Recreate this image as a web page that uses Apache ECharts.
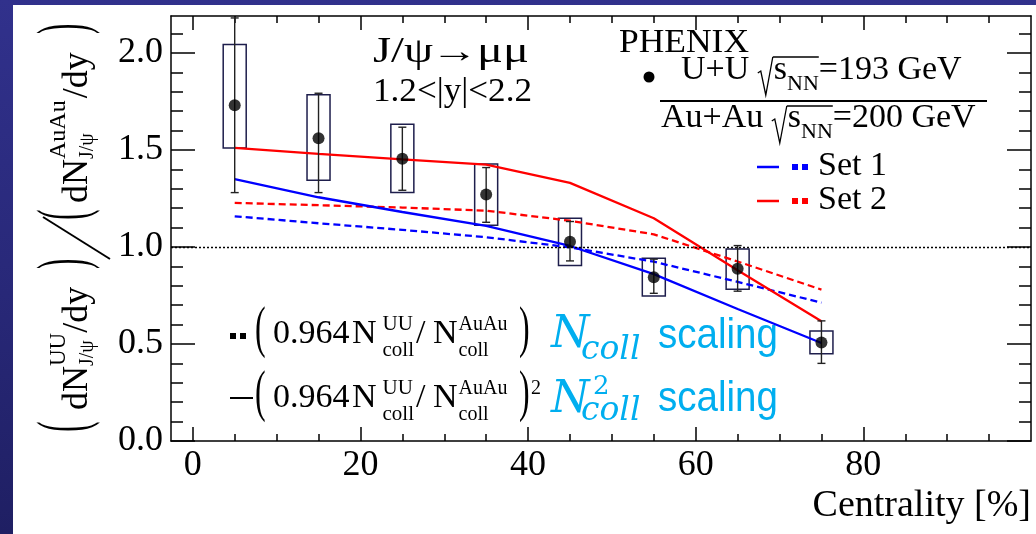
<!DOCTYPE html>
<html>
<head>
<meta charset="utf-8">
<script src="https://cdn.jsdelivr.net/npm/echarts@6/dist/echarts.min.js"></script>
<style>
  html, body { margin: 0; padding: 0; width: 1036px; height: 534px; overflow: hidden;
    background: linear-gradient(180deg, #31318c 0%, #282878 55%, #1f1f63 100%); }
  #paper { position: absolute; left: 13px; top: 5px; width: 1023px; height: 529px; background: #fff; }
  #chart { position: absolute; left: 0; top: 0; width: 1036px; height: 534px; }
</style>
</head>
<body>
<div id="paper"></div>
<div id="chart"></div>
<script>
// J/psi -> mu mu yield ratio U+U / Au+Au versus centrality (1.2<|y|<2.2)
const centrality = [5, 15, 25, 35, 45, 55, 65, 75];
const ratio      = [1.73, 1.56, 1.455, 1.27, 1.027, 0.844, 0.887, 0.507];
const statLow    = [1.28, 1.28, 1.292, 1.127, 0.928, 0.761, 0.772, 0.400];
const statHigh   = [2.18, 1.792, 1.617, 1.409, 1.131, 0.937, 1.007, 0.619];
const sysLow     = [1.51, 1.344, 1.28, 1.112, 0.904, 0.747, 0.782, 0.450];
const sysHigh    = [2.043, 1.784, 1.632, 1.428, 1.148, 0.942, 0.990, 0.567];

// model expectations: (0.964 Ncoll ratio) and its square, two parameter sets
const set1Ncoll  = [1.158, 1.122, 1.088, 1.050, 0.998, 0.924, 0.820, 0.713];
const set2Ncoll  = [1.227, 1.215, 1.203, 1.187, 1.135, 1.065, 0.925, 0.780];
const set1Ncoll2 = [1.349, 1.256, 1.180, 1.108, 1.005, 0.860, 0.680, 0.505];
const set2Ncoll2 = [1.510, 1.480, 1.451, 1.424, 1.330, 1.148, 0.880, 0.617];

const referenceLevel = 1.0;

const xMajorTicks = [0, 20, 40, 60, 80];
const xMinorTicks = [5, 10, 15, 25, 30, 35, 45, 50, 55, 65, 70, 75, 85, 90, 95];
const yMajorTicks = [0, 0.5, 1.0, 1.5, 2.0];
const yMinorTicks = [0.1, 0.2, 0.3, 0.4, 0.6, 0.7, 0.8, 0.9, 1.1, 1.2, 1.3, 1.4, 1.6, 1.7, 1.8, 1.9, 2.1];

const X_MIN = -2.6, X_MAX = 100, Y_MIN = 0, Y_MAX = 2.19;

const SERIF = '"Liberation Serif", "Times New Roman", serif';
const SANS = '"Liberation Sans", Arial, sans-serif';
const MATH = '"DejaVu Serif", serif';
const CYAN = '#00aeef';
const INK = '#000';
const axisLine = { color: INK, width: 1.5 };

// ---- text layout helper: runs of text on a shared baseline ----
const measureCtx = document.createElement('canvas').getContext('2d');
function fontOf(r) { return (r.italic ? 'italic ' : '') + r.size + 'px ' + (r.family || SERIF); }
function widthOf(r) { measureCtx.font = fontOf(r); return measureCtx.measureText(r.t).width; }
function textRow(x0, base, runs, fill) {
  const out = [];
  let x = x0, stackStart = null, stackMax = 0, radStart = null, radTop = 0, radW = 0;
  for (const r of runs) {
    if (r.at !== undefined) x = x0 + r.at;
    x += r.gap || 0;
    if (r.radical) {
      radStart = x; radTop = base + r.top; radW = r.w;
      out.push({ type: 'polyline', silent: true,
        shape: { points: [[x, base - 9], [x + 3, base - 11], [x + 8, base + r.bottom], [x + r.w - 1, radTop]] },
        style: { stroke: fill || INK, lineWidth: 1.3, fill: null } });
      x += r.w;
      continue;
    }
    if (r.radicalEnd) {
      out.push({ type: 'line', silent: true,
        shape: { x1: radStart + radW - 1, y1: radTop, x2: x, y2: radTop },
        style: { stroke: fill || INK, lineWidth: 1.3 } });
      continue;
    }
    const natural = widthOf(r);
    const sx = r.w ? r.w / natural : (r.sx || 1);
    const w = natural * sx;
    out.push({ type: 'text', silent: true, x: x, y: base + (r.dy || 0) - 0.34 * r.size,
      scaleX: sx, scaleY: r.sy || 1,
      style: { text: r.t, font: fontOf(r), fill: r.fill || fill || INK, align: 'left', verticalAlign: 'middle' } });
    if (r.stack) { if (stackStart === null) stackStart = x; stackMax = Math.max(stackMax, w); }
    else if (stackStart !== null) { x = stackStart + Math.max(stackMax, w); stackStart = null; stackMax = 0; }
    else x += w;
  }
  return out;
}

// ---- annotations ----
const graphics = [];

// vertical axis title, written bottom-to-top
const yTitleRuns = [
  { t: '(', size: 70, sx: 0.45, at: 0 },
  { t: 'dN', size: 36, at: 22 },
  { t: 'UU', size: 23, dy: -23, stack: true },
  { t: 'J/ψ', size: 20, dy: 5 },
  { t: '/dy', size: 36 },
  { t: ')', size: 70, sx: 0.45, at: 163 },
  { t: '(', size: 70, sx: 0.45, at: 212 },
  { t: 'dN', size: 36, at: 229 },
  { t: 'AuAu', size: 24, dy: -23, stack: true },
  { t: 'J/ψ', size: 20, dy: 5 },
  { t: '/dy', size: 36, gap: 2 },
  { t: ')', size: 70, sx: 0.45, at: 398 }
];
graphics.push({ type: 'group', x: 90, y: 432, rotation: Math.PI / 2, children: textRow(0, 0, yTitleRuns) });
graphics.push({ type: 'line', silent: true, shape: { x1: 110, y1: 259, x2: 43, y2: 217 }, style: { stroke: INK, lineWidth: 2 } });

// x axis title
graphics.push({ type: 'text', silent: true, x: 1031, y: 519 - 0.34 * 38,
  style: { text: 'Centrality [%]', font: '38px ' + SERIF, fill: INK, align: 'right', verticalAlign: 'middle' } });

// decay channel and rapidity window
graphics.push(...textRow(373, 65, [
  { t: 'J/ψ', size: 36, w: 60 },
  { t: '→', size: 34, w: 47, family: SERIF, gap: -2 },
  { t: 'μμ', size: 36, w: 52, gap: -1 }
]));
graphics.push(...textRow(373, 104, [{ t: '1.2<|y|<2.2', size: 34, w: 159 }]));

// experiment label and data legend
graphics.push(...textRow(619, 55, [{ t: 'PHENIX', size: 34, w: 130 }]));
graphics.push({ type: 'circle', silent: true, shape: { cx: 649, cy: 77, r: 5.5 }, style: { fill: INK } });
graphics.push(...textRow(681, 82, [
  { t: 'U+U ', size: 34 },
  { radical: true, w: 16, top: -25, bottom: 13 },
  { t: 's', size: 34 },
  { t: 'NN', size: 22, dy: 10 },
  { radicalEnd: true },
  { t: '=193 GeV', size: 34 }
]));
graphics.push({ type: 'line', silent: true, shape: { x1: 660, y1: 101, x2: 987, y2: 101 }, style: { stroke: INK, lineWidth: 2 } });
graphics.push(...textRow(661, 130, [
  { t: 'Au+Au ', size: 34 },
  { radical: true, w: 16, top: -24, bottom: 13 },
  { t: 's', size: 34 },
  { t: 'NN', size: 22, dy: 10 },
  { radicalEnd: true },
  { t: '=200 GeV', size: 34 }
]));

// model legend: solid = Ncoll^2, dashed = Ncoll
function setLegend(y, color, label) {
  graphics.push({ type: 'line', silent: true, shape: { x1: 757, y1: y, x2: 779, y2: y }, style: { stroke: color, lineWidth: 2.5 } });
  graphics.push({ type: 'rect', silent: true, shape: { x: 792, y: y - 3, width: 6, height: 6 }, style: { fill: color } });
  graphics.push({ type: 'rect', silent: true, shape: { x: 802, y: y - 3, width: 6, height: 6 }, style: { fill: color } });
  graphics.push(...textRow(818, y + 11, [{ t: label, size: 34 }]));
}
setLegend(167, '#0000ff', 'Set 1');
setLegend(201, '#ff0000', 'Set 2');

// scaling formulas
graphics.push({ type: 'rect', silent: true, shape: { x: 230, y: 333, width: 6, height: 6 }, style: { fill: INK } });
graphics.push({ type: 'rect', silent: true, shape: { x: 240, y: 333, width: 6, height: 6 }, style: { fill: INK } });
graphics.push({ type: 'line', silent: true, shape: { x1: 230, y1: 398, x2: 253, y2: 398 }, style: { stroke: INK, lineWidth: 2 } });
function formulaRow(base, squared) {
  const runs = [
    { t: '(', size: 58, sx: 0.55, at: 0, dy: 4 },
    { t: '0.964', size: 34, at: 18 },
    { t: 'N', size: 34, at: 97 },
    { t: 'UU', size: 21, dy: -14, stack: true, gap: 6 },
    { t: 'coll', size: 21, dy: 12 },
    { t: '/', size: 34, gap: 2 },
    { t: 'N', size: 34, at: 178 },
    { t: 'AuAu', size: 20, dy: -14, stack: true, gap: 1 },
    { t: 'coll', size: 20, dy: 12 },
    { t: ')', size: 58, sx: 0.55, at: 264, dy: 4 }
  ];
  graphics.push(...textRow(255, base, runs));
  if (squared) graphics.push(...textRow(531, base - 14, [{ t: '2', size: 20 }]));
}
formulaRow(346, false);
formulaRow(410, true);

graphics.push(...textRow(551, 351, [
  { t: 'N', size: 44, italic: true, family: MATH },
  { t: 'coll', size: 33, italic: true, family: MATH, at: 30, dy: 11 },
  { t: 'scaling', size: 42, family: SANS, at: 107, w: 120 }
], CYAN));
graphics.push(...textRow(551, 416, [
  { t: 'N', size: 44, italic: true, family: MATH },
  { t: '2', size: 26, family: MATH, at: 42, dy: -20 },
  { t: 'coll', size: 33, italic: true, family: MATH, at: 30, dy: 7 },
  { t: 'scaling', size: 42, family: SANS, at: 107, w: 120, dy: -2 }
], CYAN));

// ---- axes ----
function xAxisCfg(position, ticks, len, showLine, showLabel) {
  return {
    type: 'value', min: X_MIN, max: X_MAX, position,
    axisLine: { show: showLine, onZero: false, lineStyle: axisLine },
    axisTick: { show: true, inside: true, length: len, customValues: ticks, lineStyle: axisLine },
    axisLabel: showLabel
      ? { show: true, customValues: ticks, formatter: v => String(v), fontFamily: SERIF, fontSize: 36, color: INK, margin: 7 }
      : { show: false },
    splitLine: { show: false }
  };
}
function yAxisCfg(position, ticks, len, showLine, showLabel) {
  return {
    type: 'value', min: Y_MIN, max: Y_MAX, position,
    axisLine: { show: showLine, onZero: false, lineStyle: axisLine },
    axisTick: { show: true, inside: true, length: len, customValues: ticks, lineStyle: axisLine },
    axisLabel: showLabel
      ? { show: true, customValues: ticks, formatter: v => v.toFixed(1), fontFamily: SERIF, fontSize: 36, color: INK, margin: 8 }
      : { show: false },
    splitLine: { show: false }
  };
}

const pointData = centrality.map((c, i) => [c, ratio[i]]);
const sysData = centrality.map((c, i) => [c, sysLow[i], sysHigh[i]]);
const statData = centrality.map((c, i) => [c, statLow[i], statHigh[i]]);
const pairs = ys => centrality.map((c, i) => [c, ys[i]]);

function modelSeries(name, ys, color, dashed) {
  return {
    name, type: 'line', data: pairs(ys), symbol: 'none', z: 4,
    lineStyle: { color, width: 2.3, type: dashed ? [7, 4] : 'solid' }
  };
}

const option = {
  animation: false,
  backgroundColor: 'transparent',
  grid: { left: 171, right: 5, top: 16, bottom: 93, containLabel: false, outerBoundsMode: 'none' },
  xAxis: [
    xAxisCfg('bottom', xMajorTicks, 14, true, true),
    xAxisCfg('bottom', xMinorTicks, 7, false, false),
    xAxisCfg('top', xMajorTicks, 14, true, false),
    xAxisCfg('top', xMinorTicks, 7, false, false)
  ],
  yAxis: [
    yAxisCfg('left', yMajorTicks, 24, true, true),
    yAxisCfg('left', yMinorTicks, 12, false, false),
    yAxisCfg('right', yMajorTicks, 24, true, false),
    yAxisCfg('right', yMinorTicks, 12, false, false)
  ],
  series: [
    {
      name: 'reference', type: 'line', data: [], z: 1, silent: true,
      markLine: {
        silent: true, symbol: ['none', 'none'], label: { show: false },
        lineStyle: { color: INK, width: 1.3, type: [2, 2] },
        data: [{ yAxis: referenceLevel }]
      }
    },
    {
      name: 'systematic', type: 'custom', data: sysData, z: 2,
      encode: { x: 0, y: [1, 2] },
      renderItem(params, api) {
        const x = api.value(0);
        const top = api.coord([x, api.value(2)]);
        const bot = api.coord([x, api.value(1)]);
        const half = 11.5;
        return { type: 'rect', shape: { x: top[0] - half, y: top[1], width: 2 * half, height: bot[1] - top[1] },
          style: { fill: 'none', stroke: '#1e1e4c', lineWidth: 1.5 } };
      }
    },
    modelSeries('Set 1 Ncoll', set1Ncoll, '#0000ff', true),
    modelSeries('Set 2 Ncoll', set2Ncoll, '#ff0000', true),
    modelSeries('Set 1 Ncoll^2', set1Ncoll2, '#0000ff', false),
    modelSeries('Set 2 Ncoll^2', set2Ncoll2, '#ff0000', false),
    {
      name: 'statistical', type: 'custom', data: statData, z: 5,
      encode: { x: 0, y: [1, 2] },
      renderItem(params, api) {
        const x = api.value(0);
        const lo = api.coord([x, api.value(1)]);
        const hi = api.coord([x, api.value(2)]);
        const cap = 4;
        const style = { stroke: '#222', lineWidth: 1.4 };
        return { type: 'group', children: [
          { type: 'line', shape: { x1: lo[0], y1: lo[1], x2: hi[0], y2: hi[1] }, style },
          { type: 'line', shape: { x1: lo[0] - cap, y1: lo[1], x2: lo[0] + cap, y2: lo[1] }, style },
          { type: 'line', shape: { x1: hi[0] - cap, y1: hi[1], x2: hi[0] + cap, y2: hi[1] }, style }
        ] };
      }
    },
    {
      name: 'U+U / Au+Au', type: 'scatter', data: pointData, z: 6,
      symbol: 'circle', symbolSize: 12, itemStyle: { color: INK }
    }
  ],
  graphic: { elements: graphics }
};

const chart = echarts.init(document.getElementById('chart'), null, { renderer: 'canvas' });
chart.setOption(option);
</script>
</body>
</html>
